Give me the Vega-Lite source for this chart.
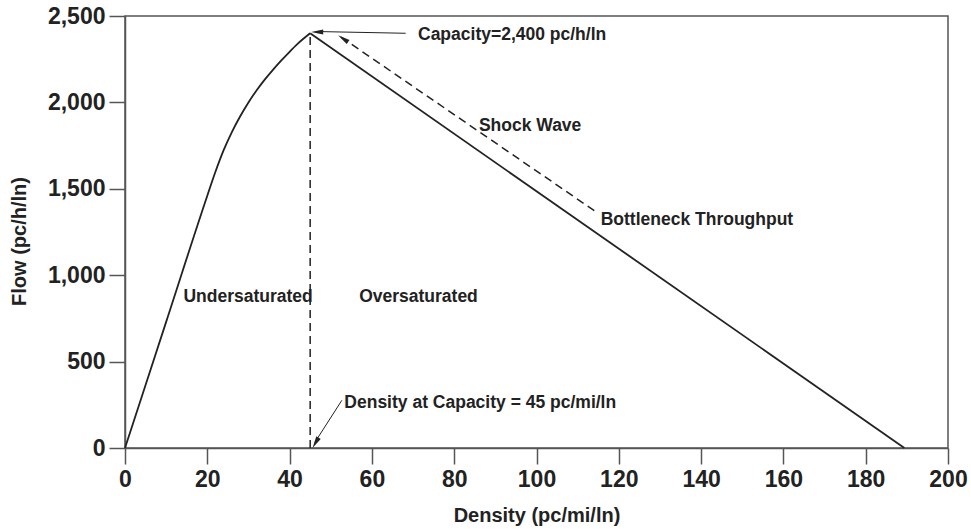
{
  "$schema": "https://vega.github.io/schema/vega-lite/v6.json",
  "width": 823,
  "height": 432,
  "autosize": {"type": "none"},
  "padding": {"left": 125, "top": 16, "right": 23, "bottom": 81},
  "background": "white",
  "config": {
    "font": "Liberation Sans",
    "view": {"stroke": "#555", "strokeWidth": 1.5},
    "axis": {
      "grid": false,
      "domainColor": "#555",
      "domainWidth": 1.5,
      "tickColor": "#555",
      "tickWidth": 1.5,
      "tickSize": 16,
      "labelFont": "Liberation Sans",
      "labelFontSize": 23,
      "labelFontWeight": "bold",
      "labelColor": "#222",
      "labelPadding": 4,
      "labelFlush": false,
      "labelOverlap": false,
      "titleFont": "Liberation Sans",
      "titleFontSize": 20,
      "titleFontWeight": "bold",
      "titleColor": "#222"
    }
  },
  "datasets": {
    "rise": [
      {"density": 0, "flow": 0},
      {"density": 10, "flow": 730},
      {"density": 20, "flow": 1460},
      {"density": 22, "flow": 1600},
      {"density": 24, "flow": 1725},
      {"density": 26, "flow": 1830},
      {"density": 28, "flow": 1920},
      {"density": 30, "flow": 2000},
      {"density": 32, "flow": 2070},
      {"density": 34, "flow": 2133},
      {"density": 36, "flow": 2190},
      {"density": 38, "flow": 2243},
      {"density": 40, "flow": 2293},
      {"density": 42, "flow": 2340},
      {"density": 45, "flow": 2400}
    ],
    "fall": [
      {"density": 45, "flow": 2400},
      {"density": 189.4, "flow": 0}
    ],
    "vline": [
      {"density": 45, "flow": 0},
      {"density": 45, "flow": 2400}
    ],
    "shock": [
      {"density": 52.5, "flow": 2378},
      {"density": 115, "flow": 1358}
    ],
    "arrows": [
      {"arrow": "capacity", "density": 47, "flow": 2410},
      {"arrow": "capacity", "density": 68.2, "flow": 2400},
      {"arrow": "kc", "density": 46.2, "flow": 35},
      {"arrow": "kc", "density": 52.7, "flow": 276}
    ],
    "heads": [
      {"density": 53.0, "flow": 2369, "angle": 304},
      {"density": 46.7, "flow": 2408, "angle": 270},
      {"density": 46.3, "flow": 30, "angle": 210}
    ],
    "labels": [
      {"label": "Capacity=2,400 pc/h/ln", "density": 71.2, "flow": 2388},
      {"label": "Shock Wave", "density": 86.0, "flow": 1861},
      {"label": "Bottleneck Throughput", "density": 115.6, "flow": 1318},
      {"label": "Undersaturated", "density": 14.2, "flow": 874},
      {"label": "Oversaturated", "density": 56.9, "flow": 874},
      {"label": "Density at Capacity = 45 pc/mi/ln", "density": 53.3, "flow": 260}
    ]
  },
  "encoding": {
    "x": {
      "field": "density",
      "type": "quantitative",
      "scale": {"domain": [0, 200], "nice": false},
      "axis": {
        "values": [0, 20, 40, 60, 80, 100, 120, 140, 160, 180, 200],
        "format": "d",
        "title": "Density (pc/mi/ln)",
        "titlePadding": 14
      }
    },
    "y": {
      "field": "flow",
      "type": "quantitative",
      "scale": {"domain": [0, 2500], "nice": false},
      "axis": {
        "values": [0, 500, 1000, 1500, 2000, 2500],
        "format": ",d",
        "title": "Flow (pc/h/ln)",
        "titlePadding": 18,
        "titleY": 225
      }
    }
  },
  "layer": [
    {
      "data": {"name": "rise"},
      "mark": {"type": "line", "color": "#222", "strokeWidth": 1.8, "interpolate": "monotone"},
      "encoding": {}
    },
    {
      "data": {"name": "fall"},
      "mark": {"type": "line", "color": "#222", "strokeWidth": 1.8},
      "encoding": {}
    },
    {
      "data": {"name": "vline"},
      "mark": {"type": "line", "color": "#222", "strokeWidth": 1.5, "strokeDash": [8, 5]},
      "encoding": {}
    },
    {
      "data": {"name": "shock"},
      "mark": {"type": "line", "color": "#222", "strokeWidth": 1.5, "strokeDash": [8, 5]},
      "encoding": {}
    },
    {
      "data": {"name": "arrows"},
      "mark": {"type": "line", "color": "#222", "strokeWidth": 1},
      "encoding": {"detail": {"field": "arrow", "type": "nominal"}}
    },
    {
      "data": {"name": "heads"},
      "mark": {"type": "point", "shape": "M0,-1L0.42,1L-0.42,1Z", "filled": true, "color": "#222", "opacity": 1, "size": 144, "strokeWidth": 0},
      "encoding": {"angle": {"field": "angle", "type": "quantitative", "scale": null}}
    },
    {
      "data": {"name": "labels"},
      "mark": {"type": "text", "align": "left", "baseline": "middle", "fontSize": 17.5, "fontWeight": "bold", "color": "#222", "font": "Liberation Sans"},
      "encoding": {"text": {"field": "label", "type": "nominal"}}
    }
  ]
}
